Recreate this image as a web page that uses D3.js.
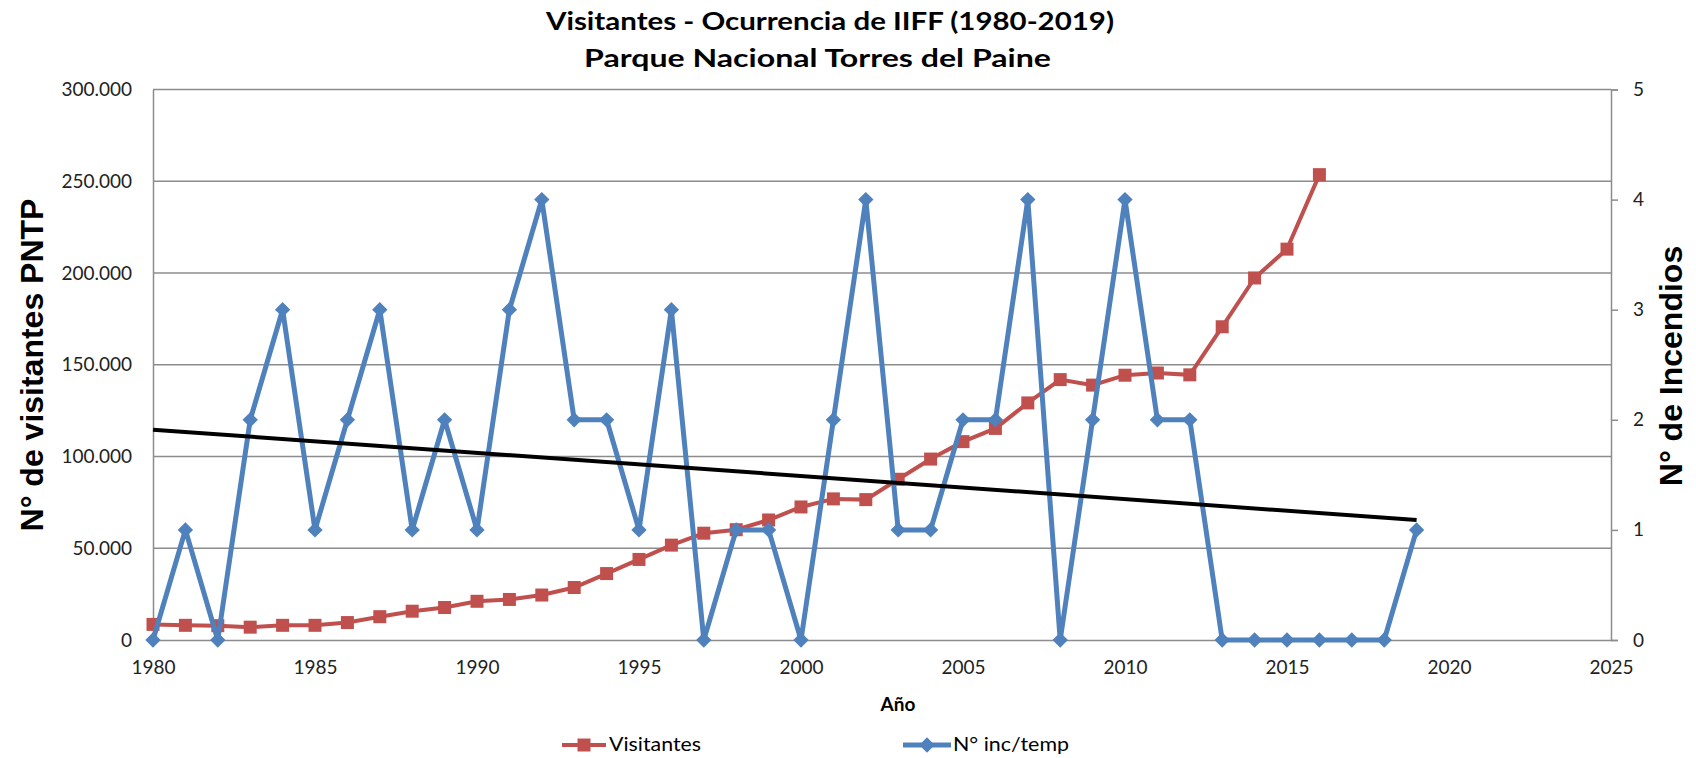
<!DOCTYPE html>
<html>
<head>
<meta charset="utf-8">
<script src="https://cdn.jsdelivr.net/npm/d3@7"></script>
<style>
  body { margin: 0; background: #fff; }
  .tick text { font-family: Lato, "Open Sans", sans-serif; font-size: 19px; fill: #222; }
</style>
</head>
<body>
<svg width="1696" height="758"></svg>
<script>
// Years and values
var visitYears = d3.range(1980, 2017);
var visitantes = [8500, 8000, 7800, 7000, 8000, 8000, 9500, 12700, 15700, 17700,
  21100, 22100, 24500, 28600, 36200, 43900, 51700, 58200, 60100, 65400,
  72500, 76900, 76500, 87600, 98600, 108100, 115300, 129200, 141900, 138900,
  144300, 145500, 144500, 170700, 197300, 213000, 253600];

var fireYears = d3.range(1980, 2020);
var incendios = [0, 1, 0, 2, 3, 1, 2, 3, 1, 2,
  1, 3, 4, 2, 2, 1, 3, 0, 1, 1,
  0, 2, 4, 1, 1, 2, 2, 4, 0, 2,
  4, 2, 2, 0, 0, 0, 0, 0, 0, 1];

// linear trend of the fires series (ends as drawn in the chart)
var trendYears = [1980, 2019];
var trendValues = [1.91, 1.09];

var xTicks = [1980, 1985, 1990, 1995, 2000, 2005, 2010, 2015, 2020, 2025];
var yLeftTicks = [0, 50000, 100000, 150000, 200000, 250000, 300000];
var yRightTicks = [0, 1, 2, 3, 4, 5];

var svg = d3.select("svg"),
    margin = {top: 89.5, right: 85, bottom: 118, left: 153},
    width = +svg.attr("width") - margin.left - margin.right,
    height = +svg.attr("height") - margin.top - margin.bottom,
    g = svg.append("g").attr("transform", "translate(" + margin.left + "," + margin.top + ")");

var red = "#C0504D", blue = "#4F81BD", grid = "#8c8c8c";

var x = d3.scaleLinear().domain([1980, 2025]).range([0, width]);
var yL = d3.scaleLinear().domain([0, 300000]).range([height, 0]);
var yR = d3.scaleLinear().domain([0, 5]).range([height, 0]);

// thousands with a dot, like the original
var fmt = function(d) { return d === 0 ? "0" : d3.format(",")(d).replace(/,/g, "."); };

// Title (the original is a bit stretched sideways)
svg.append("text")
  .attr("x", 546).attr("y", 30)
  .attr("textLength", 568).attr("lengthAdjust", "spacingAndGlyphs")
  .style("font-family", "Lato, sans-serif").style("font-weight", "bold").style("font-size", "25px")
  .text("Visitantes - Ocurrencia de IIFF (1980-2019)");
svg.append("text")
  .attr("x", 584).attr("y", 67)
  .attr("textLength", 467).attr("lengthAdjust", "spacingAndGlyphs")
  .style("font-family", "Lato, sans-serif").style("font-weight", "bold").style("font-size", "25px")
  .text("Parque Nacional Torres del Paine");

// Gridlines
g.selectAll(".grid")
  .data(yLeftTicks.slice(1))
  .enter().append("line")
  .attr("class", "grid")
  .attr("x1", 0).attr("x2", width)
  .attr("y1", function(d) { return yL(d); })
  .attr("y2", function(d) { return yL(d); })
  .attr("stroke", grid).attr("stroke-width", 1.5);

// Left axis
var axL = g.append("g")
  .call(d3.axisLeft(yL).tickValues(yLeftTicks).tickFormat(fmt).tickSize(0).tickPadding(21));
axL.select(".domain").attr("stroke", grid).attr("stroke-width", 1.5);

// Right axis
var axR = g.append("g")
  .attr("transform", "translate(" + width + ",0)")
  .call(d3.axisRight(yR).tickValues(yRightTicks).tickFormat(d3.format("d")).tickSize(7).tickPadding(15));
axR.select(".domain").attr("stroke", grid).attr("stroke-width", 1.5);
axR.selectAll(".tick line").attr("stroke", grid).attr("stroke-width", 1.5);

// Bottom axis
var axB = g.append("g")
  .attr("transform", "translate(0," + height + ")")
  .call(d3.axisBottom(x).tickValues(xTicks).tickFormat(d3.format("d")).tickSize(0).tickPadding(21));
axB.select(".domain").attr("stroke", grid).attr("stroke-width", 1.5);

// Axis titles
svg.append("text")
  .attr("transform", "translate(43,365) rotate(-90)")
  .attr("text-anchor", "middle")
  .style("font-family", "Liberation Sans, Arial, sans-serif").style("font-weight", "bold").style("font-size", "32px")
  .text("N° de visitantes PNTP");
svg.append("text")
  .attr("transform", "translate(1682,366) rotate(-90)")
  .attr("text-anchor", "middle")
  .style("font-family", "Liberation Sans, Arial, sans-serif").style("font-weight", "bold").style("font-size", "32px")
  .text("N° de Incendios");
svg.append("text")
  .attr("x", 898).attr("y", 711)
  .attr("text-anchor", "middle")
  .style("font-family", "Lato, sans-serif").style("font-weight", "bold").style("font-size", "19px")
  .text("Año");

// Visitantes line
var visitData = visitYears.map(function(d, i) { return {year: d, value: visitantes[i]}; });
g.append("path")
  .datum(visitData)
  .attr("fill", "none").attr("stroke", red).attr("stroke-width", 4)
  .attr("d", d3.line().x(function(d) { return x(d.year); }).y(function(d) { return yL(d.value); }));
g.selectAll(".sq")
  .data(visitData)
  .enter().append("rect")
  .attr("class", "sq")
  .attr("x", function(d) { return x(d.year) - 6.5; })
  .attr("y", function(d) { return yL(d.value) - 6.5; })
  .attr("width", 13).attr("height", 13)
  .attr("fill", red);

// Fires line
var fireData = fireYears.map(function(d, i) { return {year: d, value: incendios[i]}; });
g.append("path")
  .datum(fireData)
  .attr("fill", "none").attr("stroke", blue).attr("stroke-width", 5)
  .attr("stroke-linejoin", "round")
  .attr("d", d3.line().x(function(d) { return x(d.year); }).y(function(d) { return yR(d.value); }));
g.selectAll(".dia")
  .data(fireData)
  .enter().append("path")
  .attr("class", "dia")
  .attr("transform", function(d) { return "translate(" + x(d.year) + "," + yR(d.value) + ")"; })
  .attr("d", d3.symbol().type(d3.symbolDiamond2).size(150))
  .attr("fill", blue);

// Trend line
g.append("line")
  .attr("x1", x(trendYears[0])).attr("y1", yR(trendValues[0]))
  .attr("x2", x(trendYears[1])).attr("y2", yR(trendValues[1]))
  .attr("stroke", "#000").attr("stroke-width", 4);

// Legend
var legend = svg.append("g")
  .style("font-family", "Lato, sans-serif").style("font-size", "19px");
legend.append("line")
  .attr("x1", 562).attr("x2", 606).attr("y1", 745).attr("y2", 745)
  .attr("stroke", red).attr("stroke-width", 4);
legend.append("rect")
  .attr("x", 577.5).attr("y", 738.5).attr("width", 13).attr("height", 13).attr("fill", red);
legend.append("text").attr("x", 609).attr("y", 751)
  .attr("textLength", 92).attr("lengthAdjust", "spacingAndGlyphs")
  .text("Visitantes");

legend.append("line")
  .attr("x1", 903).attr("x2", 951).attr("y1", 745).attr("y2", 745)
  .attr("stroke", blue).attr("stroke-width", 5);
legend.append("path")
  .attr("transform", "translate(927,745)")
  .attr("d", d3.symbol().type(d3.symbolDiamond2).size(150))
  .attr("fill", blue);
legend.append("text").attr("x", 953).attr("y", 751)
  .attr("textLength", 116).attr("lengthAdjust", "spacingAndGlyphs")
  .text("N° inc/temp");
</script>
</body>
</html>
